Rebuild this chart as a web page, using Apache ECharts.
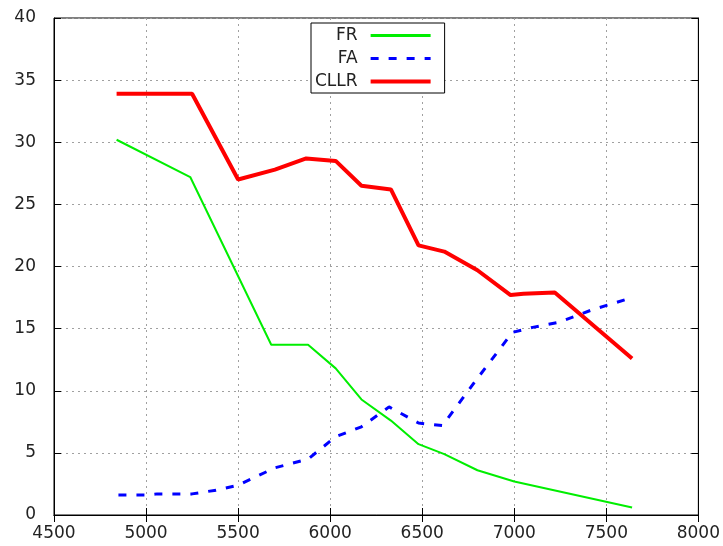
<!DOCTYPE html>
<html><head><meta charset="utf-8">
<script src="https://cdn.jsdelivr.net/npm/echarts@6/dist/echarts.min.js"></script>
<style>html,body{margin:0;padding:0;background:#fff}#c{width:723px;height:546px}</style>
</head><body><div id="c"></div>
<script>
var xTicks = [4500, 5000, 5500, 6000, 6500, 7000, 7500, 8000];
var yTicks = [0, 5, 10, 15, 20, 25, 30, 35, 40];
var frX = [4840, 5240, 5680, 5880, 6030, 6170, 6330, 6480, 6620, 6800, 7000, 7640];
var frY = [30.2, 27.2, 13.7, 13.7, 11.8, 9.3, 7.6, 5.7, 4.9, 3.6, 2.7, 0.6];
var faX = [4850, 5000, 5060, 5250, 5380, 5500, 5700, 5880, 6030, 6170, 6320, 6480, 6610, 6800, 6990, 7100, 7240, 7420, 7640];
var faY = [1.6, 1.6, 1.7, 1.7, 2.0, 2.4, 3.8, 4.5, 6.3, 7.1, 8.7, 7.4, 7.2, 11.0, 14.7, 15.1, 15.5, 16.5, 17.5];
var cllrX = [4840, 5250, 5500, 5700, 5870, 6030, 6170, 6330, 6480, 6620, 6800, 6980, 7050, 7220, 7640];
var cllrY = [33.9, 33.9, 27.0, 27.8, 28.7, 28.5, 26.5, 26.2, 21.7, 21.2, 19.7, 17.7, 17.8, 17.9, 12.6];

function pairs(xs, ys){ return xs.map(function(x,i){ return [x, ys[i]]; }); }
var font = 'DejaVu Sans';
var chart = echarts.init(document.getElementById('c'));
var gridLine = {show:true, lineStyle:{color:'#a0a0a0', type:[2,4], width:1}};
chart.setOption({
  animation:false,
  backgroundColor:'#fff',
  grid:{left:54, right:23, top:18, bottom:31, show:true, borderColor:'#000', borderWidth:1},
  legend:{
    top:23, left:311, orient:'vertical', align:'right',
    itemWidth:60, itemHeight:14, itemGap:6,
    padding:[4,12,3,4],
    borderColor:'#000', borderWidth:1, backgroundColor:'#fff',
    itemStyle:{opacity:0},
    formatter:function(n){ return '{a|'+n+'}'; },
    textStyle:{fontFamily:font, fontSize:17, color:'#222', rich:{a:{width:53, padding:[0,8,0,0], align:'right', fontFamily:font, fontSize:17, color:'#222'}}},
    data:[{name:'FR', lineStyle:{width:3}}, {name:'FA', lineStyle:{width:3}}, {name:'CLLR', lineStyle:{width:4}}]
  },
  xAxis:[
    {type:'value', min:4500, max:8000, interval:500, position:'bottom',
     axisLine:{lineStyle:{color:'#000'}}, axisTick:{inside:true, length:7, lineStyle:{color:'#000'}},
     axisLabel:{fontFamily:font, fontSize:17, color:'#222', margin:10,
       formatter:function(v){ return xTicks.indexOf(v)>=0 ? String(v) : ''; }},
     splitLine:gridLine},
    {type:'value', min:4500, max:8000, interval:500, position:'top',
     axisLine:{lineStyle:{color:'#000'}}, axisTick:{inside:true, length:7, lineStyle:{color:'#000'}},
     axisLabel:{show:false}, splitLine:{show:false}}
  ],
  yAxis:[
    {type:'value', min:0, max:40, interval:5, position:'left',
     axisLine:{show:true, lineStyle:{color:'#000'}}, axisTick:{show:true, inside:true, length:7, lineStyle:{color:'#000'}},
     axisLabel:{fontFamily:font, fontSize:17, color:'#222', margin:18,
       formatter:function(v){ return yTicks.indexOf(v)>=0 ? String(v) : ''; }},
     splitLine:gridLine},
    {type:'value', min:0, max:40, interval:5, position:'right',
     axisLine:{show:true, lineStyle:{color:'#000'}}, axisTick:{show:true, inside:true, length:7, lineStyle:{color:'#000'}},
     axisLabel:{show:false}, splitLine:{show:false}}
  ],
  series:[
    {name:'FR', type:'line', data:pairs(frX, frY), showSymbol:false, symbol:'none',
     lineStyle:{color:'#00ee00', width:2}, itemStyle:{color:'#00ee00'}},
    {name:'FA', type:'line', data:pairs(faX, faY), showSymbol:false, symbol:'none',
     lineStyle:{color:'#0000ff', width:3, type:[8,10]}, itemStyle:{color:'#0000ff'}},
    {name:'CLLR', type:'line', data:pairs(cllrX, cllrY), showSymbol:false, symbol:'none',
     lineStyle:{color:'#ff0000', width:4}, itemStyle:{color:'#ff0000'}}
  ]
});
</script></body></html>
